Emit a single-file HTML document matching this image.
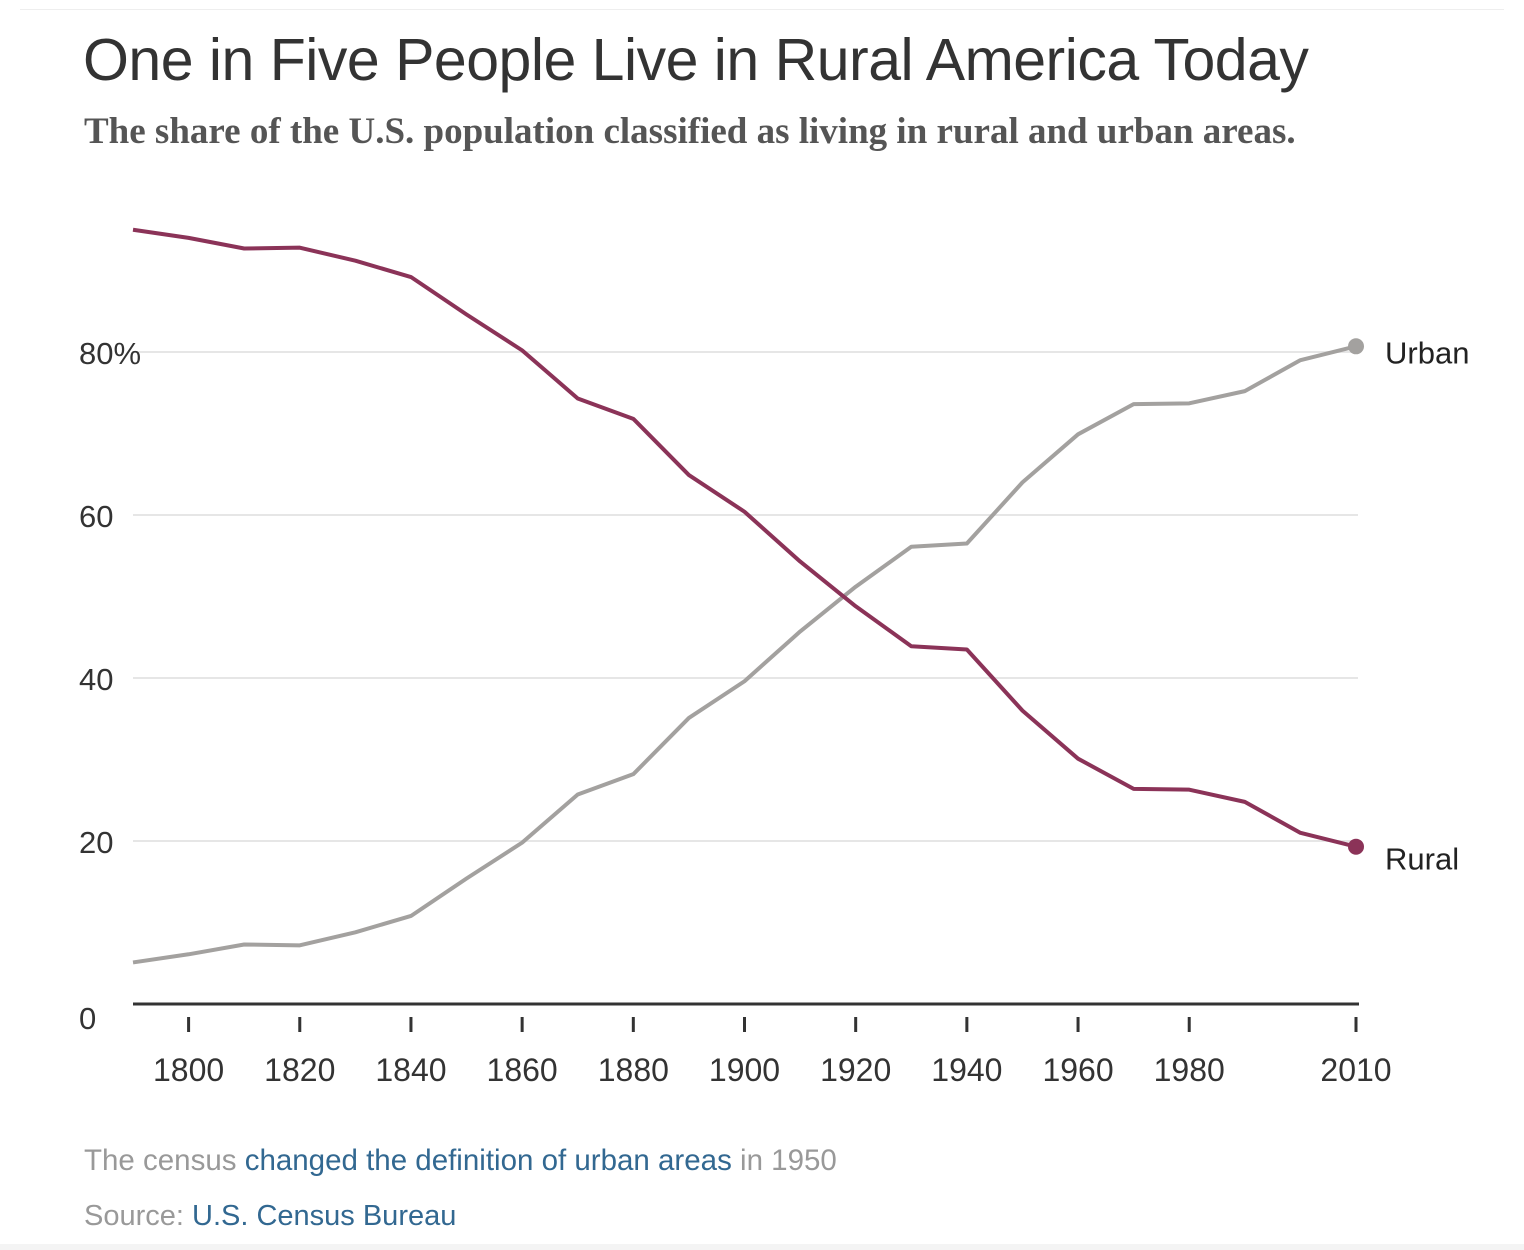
<!DOCTYPE html>
<html><head><meta charset="utf-8"><style>
body{margin:0;background:#fff;width:1524px;height:1250px;overflow:hidden;position:relative;font-family:"Liberation Sans",sans-serif}
.t{position:absolute;white-space:nowrap}
a{color:#326891;text-decoration:none}
</style></head><body>
<div style="position:absolute;left:20px;top:9px;width:1484px;height:1px;background:#eee"></div>
<div class="t" style="left:83px;top:26px;font-size:59px;color:#333;letter-spacing:-0.5px">One in Five People Live in Rural America Today</div>
<div class="t" style="left:84px;top:110px;font-size:37px;color:#555;font-family:'Liberation Serif',serif;font-weight:bold">The share of the U.S. population classified as living in rural and urban areas.</div>
<svg id="c" width="1524" height="1250" style="position:absolute;left:0;top:0"></svg>
<div class="t" style="left:84px;top:1144px;font-size:29.5px;color:#999">The census <a>changed the definition of urban areas</a> in 1950</div>
<div class="t" style="left:84px;top:1200px;font-size:29px;color:#999">Source: <a>U.S. Census Bureau</a></div>
<div style="position:absolute;left:0;top:1244px;width:1524px;height:6px;background:#f4f4f4"></div>
<script>
const years=[1790,1800,1810,1820,1830,1840,1850,1860,1870,1880,1890,1900,1910,1920,1930,1940,1950,1960,1970,1980,1990,2000,2010];
const rural=[95,94,92.7,92.8,91.2,89.2,84.6,80.2,74.3,71.8,64.9,60.4,54.3,48.8,43.9,43.5,36,30.1,26.4,26.3,24.8,21,19.3];
const urban=[5.1,6.1,7.3,7.2,8.8,10.8,15.4,19.8,25.7,28.2,35.1,39.6,45.7,51.2,56.1,56.5,64,69.9,73.6,73.7,75.2,79,80.7];
const yTicks=[0,20,40,60,80];
const yTickLabels=["0","20","40","60","80%"];
const xTicks=[1800,1820,1840,1860,1880,1900,1920,1940,1960,1980,2010];
const NS="http://www.w3.org/2000/svg",svg=document.getElementById('c');
const X=y=>133+(y-1790)*(1356-133)/220, Y=v=>1004-v*8.15;
function el(t,a){const e=document.createElementNS(NS,t);for(const k in a)e.setAttribute(k,a[k]);svg.appendChild(e);return e;}
yTicks.forEach((v,i)=>{
 if(v>0){const g=el('line',{x1:133,x2:1358,y1:Y(v),y2:Y(v),stroke:'#e6e6e6','stroke-width':2});
 
 }
 const t=el('text',{x:79,y:Y(v)+(v==0?25:12),'font-size':31,fill:'#333','font-family':'Liberation Sans'});t.textContent=yTickLabels[i];
 
 
});
const ax=el('line',{x1:133,x2:1359,y1:1004,y2:1004,stroke:'#333','stroke-width':3});


xTicks.forEach(y=>{
 const tk=el('line',{x1:X(y),x2:X(y),y1:1017,y2:1032,stroke:'#333','stroke-width':3});
 
 
 const t=el('text',{x:X(y),y:1081,'font-size':32,fill:'#333','text-anchor':'middle','font-family':'Liberation Sans'});t.textContent=y;
 
 
});
function series(vals,color,name,label,dy){
 const p=el('polyline',{points:vals.map((v,i)=>X(years[i])+','+Y(v)).join(' '),fill:'none',stroke:color,'stroke-width':4,'stroke-linejoin':'round'});
 
 
 const n=vals.length-1;
 const c=el('circle',{cx:X(years[n]),cy:Y(vals[n]),r:8,fill:color});
 
 
 const t=el('text',{x:1385,y:Y(vals[n])+dy,'font-size':31,fill:'#222','font-family':'Liberation Sans'});t.textContent=label;
 
 
}
series(urban,'#a3a19f','urban','Urban',17);
series(rural,'#8b3358','rural','Rural',23);
</script>
</body></html>
